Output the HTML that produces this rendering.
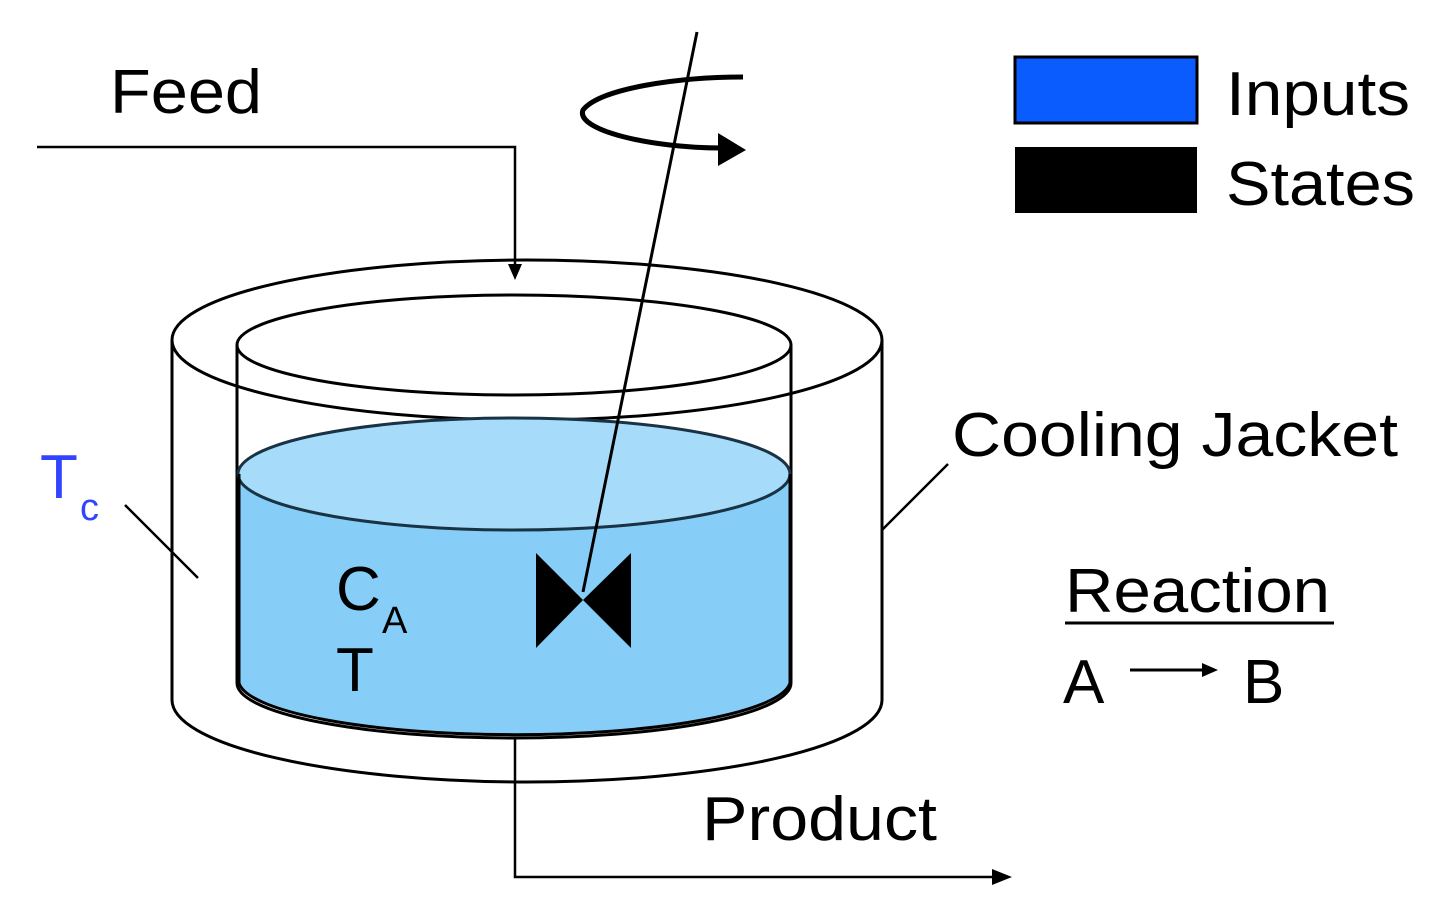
<!DOCTYPE html>
<html><head><style>html,body{margin:0;padding:0;background:#fff}svg{display:block}</style></head>
<body>
<svg width="1437" height="907" viewBox="0 0 1437 907" xmlns="http://www.w3.org/2000/svg" font-family="Liberation Sans, Arial, sans-serif">
<rect width="1437" height="907" fill="#fff"/>
<g fill="none" stroke="#000" stroke-width="3">
<path d="M172 340 L172 700 A355 82 0 0 0 882 700 L882 340" fill="#fff"/>
<ellipse cx="527" cy="340" rx="355" ry="80" fill="#fff"/>
<path d="M237 345 L237 683 A277 55 0 0 0 791 683 L791 345"/>
<ellipse cx="514" cy="345" rx="277" ry="50"/>
</g>
<path d="M239 474 L239 683 A276 55 0 0 0 790 683 L790 474 Z" fill="#86cef8"/>
<ellipse cx="514" cy="474" rx="276" ry="56" fill="#a6dcfa" stroke="#1a3344" stroke-width="3"/>
<path d="M239 474 L239 683 A276 55 0 0 0 790 683 L790 474" fill="none" stroke="#000" stroke-width="3"/>
<path d="M37 147 L515 147 L515 268" fill="none" stroke="#000" stroke-width="2.5"/>
<path d="M508 264 L522 264 L515 280 Z" fill="#000"/>
<path d="M515 738 L515 877 L995 877" fill="none" stroke="#000" stroke-width="2.5"/>
<path d="M992 869 L1012 877 L992 885 Z" fill="#000"/>
<line x1="697" y1="32" x2="583" y2="592" stroke="#000" stroke-width="3"/>
<path d="M743 77 C680 77 600 88 583 110 C575 130 650 148 722 148" fill="none" stroke="#000" stroke-width="5"/>
<path d="M718 133 L746 150 L718 166 Z" fill="#000"/>
<path d="M536 553 L583 600 L536 648 Z M631 553 L583 600 L631 648 Z" fill="#000"/>
<rect x="1015" y="57" width="182" height="66" fill="#0a5cff" stroke="#000" stroke-width="3"/>
<rect x="1015" y="147" width="182" height="66" fill="#000"/>
<g font-size="62" fill="#000">
<text x="1226" y="115" textLength="184" lengthAdjust="spacingAndGlyphs">Inputs</text>
<text x="1226" y="205" textLength="189" lengthAdjust="spacingAndGlyphs">States</text>
<text x="110" y="113" textLength="152" lengthAdjust="spacingAndGlyphs">Feed</text>
<text x="952" y="456" textLength="446" lengthAdjust="spacingAndGlyphs">Cooling Jacket</text>
<text x="1065" y="612" textLength="265" lengthAdjust="spacingAndGlyphs">Reaction</text>
<text x="1063" y="703">A</text>
<text x="1243" y="703">B</text>
<text x="702" y="840" textLength="235" lengthAdjust="spacingAndGlyphs">Product</text>
<text x="336" y="610">C</text>
<text x="336" y="691">T</text>
</g>
<text x="382" y="633" font-size="38">A</text>
<text x="40" y="498" font-size="62" fill="#3344ff">T</text>
<text x="80" y="520" font-size="38" fill="#3344ff">c</text>
<line x1="1065" y1="623" x2="1334" y2="623" stroke="#000" stroke-width="3"/>
<line x1="1130" y1="670" x2="1205" y2="670" stroke="#000" stroke-width="3"/>
<path d="M1202 663 L1218 670 L1202 677 Z" fill="#000"/>
<line x1="948" y1="464" x2="882" y2="530" stroke="#000" stroke-width="2.5"/>
<line x1="125" y1="505" x2="198" y2="578" stroke="#000" stroke-width="2.5"/>
</svg>
</body></html>
